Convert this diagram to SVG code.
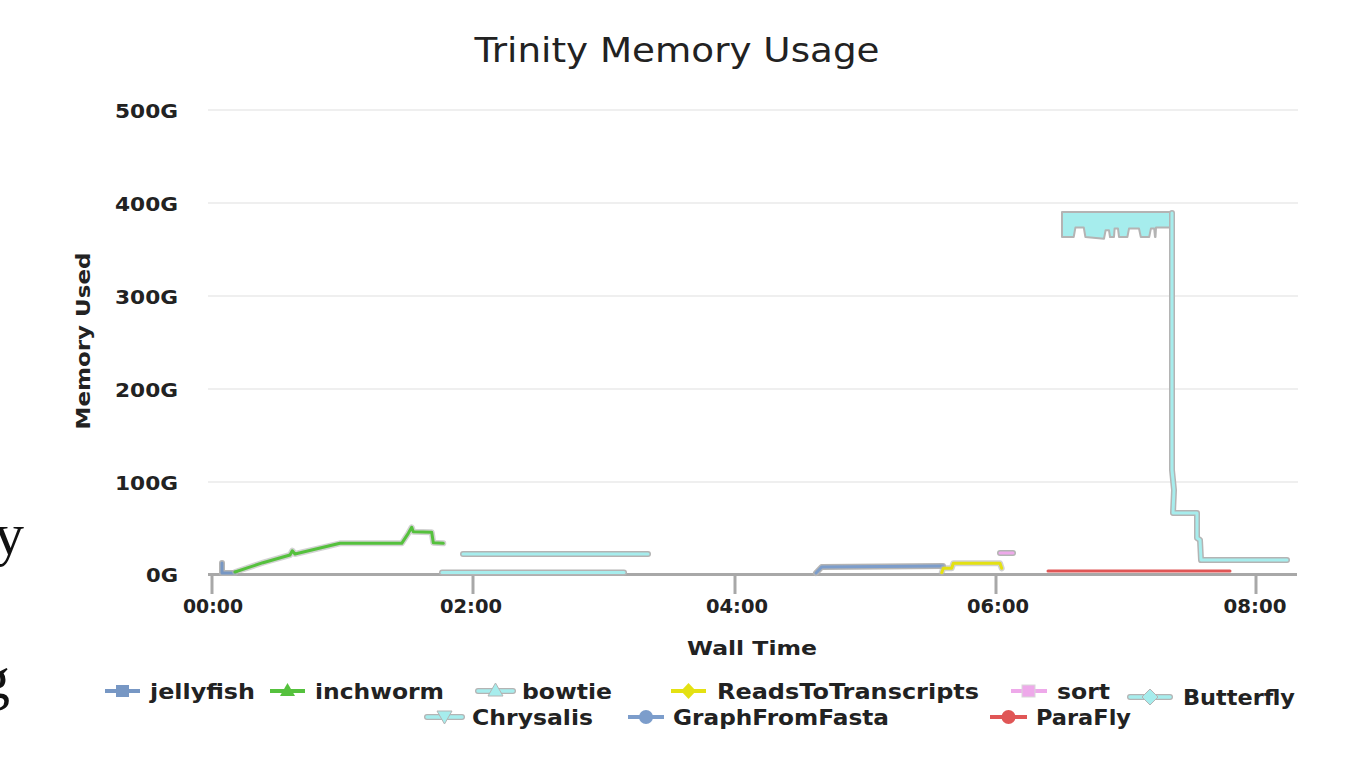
<svg xmlns="http://www.w3.org/2000/svg" width="1360" height="782" viewBox="0 0 1360 782">
<style>
.t{font-family:"DejaVu Sans","Liberation Sans",sans-serif;fill:#222}
.b{font-weight:bold;font-size:20px}
.lg{font-weight:bold;font-size:22px}
.grid{stroke:#efefef;stroke-width:2}
.axis{stroke:#a8a8a8;stroke-width:3;fill:none}
.sh{fill:none;stroke:#b4b4b4;stroke-width:6;stroke-linejoin:round;stroke-linecap:round}
.ln{fill:none;stroke-width:3;stroke-linejoin:round;stroke-linecap:round}
.cy{stroke:#a6eded}
</style>
<rect width="1360" height="782" fill="#ffffff"/>
<g id="slide-fragments" font-family="'Liberation Serif',serif" font-size="60" fill="#111">
<text x="-6" y="554">y</text>
<text x="-20" y="698">g</text>
</g>
<text id="title" class="t" x="677" y="62" font-size="33" text-anchor="middle" textLength="405" lengthAdjust="spacingAndGlyphs">Trinity Memory Usage</text>
<g id="grid">
<line class="grid" x1="208" y1="110" x2="1298" y2="110"/>
<line class="grid" x1="208" y1="203" x2="1298" y2="203"/>
<line class="grid" x1="208" y1="296" x2="1298" y2="296"/>
<line class="grid" x1="208" y1="389" x2="1298" y2="389"/>
<line class="grid" x1="208" y1="482" x2="1298" y2="482"/>
</g>
<g id="y-axis" class="t b" text-anchor="end">
<text x="178" y="118" textLength="63" lengthAdjust="spacingAndGlyphs">500G</text>
<text x="178" y="211" textLength="63" lengthAdjust="spacingAndGlyphs">400G</text>
<text x="178" y="304" textLength="63" lengthAdjust="spacingAndGlyphs">300G</text>
<text x="178" y="397" textLength="63" lengthAdjust="spacingAndGlyphs">200G</text>
<text x="178" y="490" textLength="63" lengthAdjust="spacingAndGlyphs">100G</text>
<text x="178" y="582" textLength="32" lengthAdjust="spacingAndGlyphs">0G</text>
<text x="0" y="0" text-anchor="middle" transform="translate(90,341) rotate(-90)" textLength="177" lengthAdjust="spacingAndGlyphs">Memory Used</text>
</g>
<g id="x-axis">
<line class="axis" x1="208" y1="574.5" x2="1297" y2="574.5"/>
<g class="axis" stroke-width="2.5">
<line x1="212" y1="574" x2="212" y2="594"/>
<line x1="473" y1="574" x2="473" y2="594"/>
<line x1="735" y1="574" x2="735" y2="594"/>
<line x1="996" y1="574" x2="996" y2="594"/>
<line x1="1256" y1="574" x2="1256" y2="594"/>
</g>
<g class="t b" text-anchor="middle">
<text x="213" y="613" textLength="60" lengthAdjust="spacingAndGlyphs">00:00</text>
<text x="471" y="613" textLength="62" lengthAdjust="spacingAndGlyphs">02:00</text>
<text x="737" y="613" textLength="62" lengthAdjust="spacingAndGlyphs">04:00</text>
<text x="998" y="613" textLength="62" lengthAdjust="spacingAndGlyphs">06:00</text>
<text x="1255" y="613" textLength="63" lengthAdjust="spacingAndGlyphs">08:00</text>
<text x="752" y="655" textLength="130" lengthAdjust="spacingAndGlyphs">Wall Time</text>
</g>
</g>
<g id="series">
<g id="s-jellyfish">
<polyline class="sh" points="222,563 222,573 235,573"/>
<polyline class="ln" stroke="#7797c4" points="222,563 222,573 235,573"/>
</g>
<g id="s-inchworm">
<polyline class="sh" stroke-width="5" opacity="0.6" points="235,572 263,562.7 290,555 292.3,550.7 295,554 340,543.3 401.7,543.3 408.3,533.3 411.7,527.3 413.3,531.7 431.7,532.3 433.3,542.7 443.3,543.3"/>
<polyline class="ln" stroke="#55c13d" points="235,572 263,562.7 290,555 292.3,550.7 295,554 340,543.3 401.7,543.3 408.3,533.3 411.7,527.3 413.3,531.7 431.7,532.3 433.3,542.7 443.3,543.3"/>
</g>
<g id="s-bowtie">
<polyline class="sh" points="463,554 648,554"/>
<polyline class="ln cy" points="463,554 648,554"/>
<polyline class="sh" points="442,572.5 624,572.5"/>
<polyline class="ln cy" points="442,572.5 624,572.5"/>
</g>
<g id="s-graphfromfasta">
<polyline class="sh" points="816,573 821.7,567 943,566"/>
<polyline class="ln" stroke="#7c9dcb" points="816,573 821.7,567 943,566"/>
</g>
<g id="s-readstotranscripts">
<polyline class="sh" stroke-width="5" opacity="0.6" points="941.7,572.7 943.3,568.3 951.7,568.3 953.3,563.3 1000,563.3 1001.7,568.3"/>
<polyline class="ln" stroke="#e4e112" points="941.7,572.7 943.3,568.3 951.7,568.3 953.3,563.3 1000,563.3 1001.7,568.3"/>
</g>
<g id="s-sort">
<polyline class="sh" stroke="#d8d8d8" points="1000,553 1013,553"/>
<polyline class="ln" stroke="#eea9ea" points="1000,553 1013,553"/>
</g>
<g id="s-parafly">
<polyline class="ln" stroke="#e05656" stroke-width="4.5" stroke-linecap="butt" points="1048,571 1230,571"/>
</g>
<g id="s-chrysalis-butterfly">
<polygon fill="#a6eded" stroke="#b4b4b4" stroke-width="2" stroke-linejoin="round" points="1062,212 1173,212 1173,227.6 1167.7,227.6 1156,227.6 1155.5,237 1155,237 1154.2,228.6 1150.9,228.6 1149.2,237 1140.8,237 1139,228.6 1129,228.6 1127.4,237 1119,237 1118,228.6 1114.6,228.6 1114,237 1110,237 1109,230.3 1105.6,230.3 1104,238.7 1085.4,237 1083.8,227.6 1075.4,227.6 1073.7,237 1062,237"/>
<polyline class="sh" points="1172,213 1172,470 1174,490 1173,513 1197,513 1197,538 1200,540 1201,560 1287,560"/>
<polyline class="ln cy" points="1172,213 1172,470 1174,490 1173,513 1197,513 1197,538 1200,540 1201,560 1287,560"/>
</g>
</g>
<g id="legend">
<g id="lg-jellyfish">
<line x1="105" y1="691" x2="140" y2="691" stroke="#7797c4" stroke-width="4"/>
<rect x="116" y="685" width="13" height="12" fill="#7797c4"/>
<text class="t lg" x="150" y="699" textLength="105" lengthAdjust="spacingAndGlyphs">jellyfish</text>
</g>
<g id="lg-inchworm">
<line x1="270" y1="691" x2="305" y2="691" stroke="#55c13d" stroke-width="4"/>
<polygon points="287.5,683 295,696 280,696" fill="#55c13d"/>
<text class="t lg" x="315" y="699" textLength="129" lengthAdjust="spacingAndGlyphs">inchworm</text>
</g>
<g id="lg-bowtie">
<line x1="478" y1="691" x2="513" y2="691" stroke="#b4b4b4" stroke-width="6" stroke-linecap="round"/>
<line x1="478" y1="691" x2="513" y2="691" stroke="#a6eded" stroke-width="3.5" stroke-linecap="round"/>
<polygon points="495.5,683 503,696 488,696" fill="#a6eded" stroke="#b4b4b4" stroke-width="1"/>
<text class="t lg" x="522" y="699" textLength="90" lengthAdjust="spacingAndGlyphs">bowtie</text>
</g>
<g id="lg-readstotranscripts">
<line x1="671" y1="691" x2="706" y2="691" stroke="#e4e112" stroke-width="4"/>
<polygon points="688.5,683 696,691 688.5,699 681,691" fill="#e4e112"/>
<text class="t lg" x="717" y="699" textLength="262" lengthAdjust="spacingAndGlyphs">ReadsToTranscripts</text>
</g>
<g id="lg-sort">
<line x1="1011" y1="691" x2="1047" y2="691" stroke="#eea9ea" stroke-width="4"/>
<rect x="1022" y="685" width="13" height="12" fill="#eea9ea" stroke="#d8d8d8" stroke-width="1"/>
<text class="t lg" x="1057" y="699" textLength="53" lengthAdjust="spacingAndGlyphs">sort</text>
</g>
<g id="lg-butterfly">
<line x1="1130" y1="697" x2="1170" y2="697" stroke="#b4b4b4" stroke-width="6" stroke-linecap="round"/>
<line x1="1130" y1="697" x2="1170" y2="697" stroke="#a6eded" stroke-width="3.5" stroke-linecap="round"/>
<polygon points="1150,689 1158,697 1150,705 1142,697" fill="#a6eded" stroke="#b4b4b4" stroke-width="1"/>
<text class="t lg" x="1183" y="705" textLength="112" lengthAdjust="spacingAndGlyphs">Butterfly</text>
</g>
<g id="lg-chrysalis">
<line x1="427" y1="717" x2="462" y2="717" stroke="#b4b4b4" stroke-width="6" stroke-linecap="round"/>
<line x1="427" y1="717" x2="462" y2="717" stroke="#a6eded" stroke-width="3.5" stroke-linecap="round"/>
<polygon points="437,711 452,711 444.5,724" fill="#a6eded" stroke="#b4b4b4" stroke-width="1"/>
<text class="t lg" x="472" y="725" textLength="121" lengthAdjust="spacingAndGlyphs">Chrysalis</text>
</g>
<g id="lg-graphfromfasta">
<line x1="628" y1="717" x2="664" y2="717" stroke="#7c9dcb" stroke-width="4"/>
<circle cx="646" cy="717" r="7" fill="#7c9dcb"/>
<text class="t lg" x="673" y="725" textLength="216" lengthAdjust="spacingAndGlyphs">GraphFromFasta</text>
</g>
<g id="lg-parafly">
<line x1="990" y1="717" x2="1027" y2="717" stroke="#e05656" stroke-width="4"/>
<circle cx="1008.5" cy="717" r="7" fill="#e05656"/>
<text class="t lg" x="1036" y="725" textLength="95" lengthAdjust="spacingAndGlyphs">ParaFly</text>
</g>
</g>
</svg>
